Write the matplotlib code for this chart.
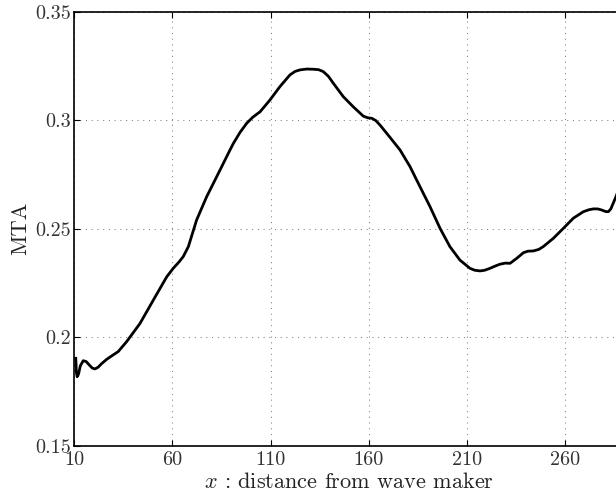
import matplotlib
matplotlib.use("Agg")
import matplotlib.pyplot as plt

plt.rcParams['font.family'] = ['cmr10', 'DejaVu Serif']
plt.rcParams['mathtext.fontset'] = 'cm'
plt.rcParams['axes.unicode_minus'] = False

x_vals = [10.9, 11.2, 11.6, 12.3, 13.2, 14.7, 16.2, 17.8, 19.3, 20.7, 22.3, 24.0, 26.6,
          29.5, 32.5, 36.8, 43.6, 50.4, 57.2, 60.5, 63.5, 65.6, 68.2, 72.4, 77.5, 84.3,
          89.4, 91.1, 94.5, 97.9, 101.0, 104.7, 109.7, 114.8, 119.9, 122.5, 125.0, 128.5,
          131.8, 134.5, 136.9, 139.5, 142.0, 147.1, 152.1, 157.2, 159.5, 161.5, 163.5,
          165.7, 170.8, 175.9, 181.0, 186.1, 191.2, 196.3, 201.3, 206.4, 211.5, 214.0,
          216.6, 219.0, 221.7, 224.5, 226.8, 229.5, 231.9, 235.3, 238.7, 241.0, 243.7,
          246.5, 248.8, 253.9, 259.0, 264.1, 269.2, 272.0, 274.3, 276.5, 278.5, 280.5,
          281.9, 283.2, 284.4, 285.8, 287.5, 289.0]
mta_vals = [0.1903, 0.1840, 0.1818, 0.1830, 0.1868, 0.1892, 0.1888, 0.1872, 0.1858,
            0.1854, 0.1862, 0.1878, 0.1898, 0.1916, 0.1934, 0.1980, 0.2064, 0.2172,
            0.2279, 0.2318, 0.2348, 0.2372, 0.2418, 0.2541, 0.2648, 0.2771, 0.2864,
            0.2894, 0.2945, 0.2987, 0.3015, 0.3040, 0.3094, 0.3156, 0.3210, 0.3226,
            0.3233, 0.3237, 0.3236, 0.3234, 0.3225, 0.3203, 0.3171, 0.3109, 0.3063,
            0.3020, 0.3012, 0.3010, 0.3000, 0.2979, 0.2922, 0.2864, 0.2787, 0.2694,
            0.2602, 0.2502, 0.2418, 0.2356, 0.2318, 0.2309, 0.2306, 0.2309, 0.2318,
            0.2329, 0.2337, 0.2342, 0.2341, 0.2364, 0.2390, 0.2397, 0.2398, 0.2405,
            0.2418, 0.2456, 0.2502, 0.2549, 0.2579, 0.2588, 0.2592, 0.2592, 0.2587,
            0.2580, 0.2579, 0.2592, 0.2618, 0.2648, 0.2690, 0.2730]

x_ticks = [10, 60, 110, 160, 210, 260]
y_ticks = [0.15, 0.2, 0.25, 0.3, 0.35]
y_tick_labels = ["0.15", "0.2", "0.25", "0.3", "0.35"]

fig = plt.figure(figsize=(6.16, 5.03), dpi=100)
ax = fig.add_axes([74/616, 57.3/503, 550.2/616, 433.7/503])
ax.plot(x_vals, mta_vals, color='black', lw=2.0, solid_joinstyle='round')
ax.set_xlim(10, 290)
ax.set_ylim(0.15, 0.35)
ax.set_xticks(x_ticks)
ax.set_xticklabels([str(t) for t in x_ticks])
ax.set_yticks(y_ticks)
ax.set_yticklabels(y_tick_labels)
ax.grid(True, linestyle=(0, (1, 4.5)), color='0.5', linewidth=0.75)
ax.tick_params(direction='in', length=4.5, width=0.8, labelsize=14.5,
               top=True, right=True, colors='black', labelcolor='#333333')
ax.tick_params(axis='x', pad=4)
ax.tick_params(axis='y', pad=2)
for s in ax.spines.values():
    s.set_linewidth(1.2)
ax.set_xlabel(r'$x$ : distance from wave maker', fontsize=16, labelpad=2, color='#222222')
ax.set_ylabel('MTA', fontsize=16, labelpad=4, color='#222222')
fig.savefig('out.png', dpi=100)
